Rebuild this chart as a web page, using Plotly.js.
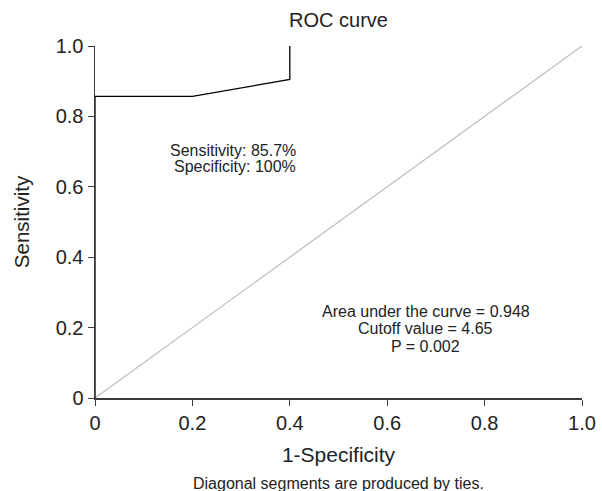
<!DOCTYPE html>
<html>
<head>
<meta charset="utf-8">
<script src="https://cdn.plot.ly/plotly-3.0.1.min.js"></script>
<style>html,body{margin:0;padding:0;background:#fff;} #chart{width:602px;height:491px;}</style>
</head>
<body>
<div id="chart"></div>
<script>
// ROC curve points (1-Specificity, Sensitivity)
const fpr = [0, 0, 0.2, 0.4, 0.4];
const tpr = [0, 0.857, 0.857, 0.905, 1.0];
// Reference (chance) line
const refX = [0, 1];
const refY = [0, 1];
// Tick values and labels
const tickVals = [0, 0.2, 0.4, 0.6, 0.8, 1.0];
const tickLabels = ["0", "0.2", "0.4", "0.6", "0.8", "1.0"];
// Text
const chartTitle = "ROC curve";
const xTitle = "1-Specificity";
const yTitle = "Sensitivity";
const cutText = ["Sensitivity: 85.7%", "Specificity: 100%"];
const statText = ["Area under the curve = 0.948", "Cutoff value = 4.65", "P = 0.002"];
const footnote = "Diagonal segments are produced by ties.";

const FONT = "Liberation Sans, Arial, Helvetica, sans-serif";
const TXT = "#222";

const traces = [
  {x: refX, y: refY, mode: "lines", line: {color: "#bcbcbc", width: 1.2}, hoverinfo: "skip", showlegend: false},
  {x: fpr, y: tpr, mode: "lines", line: {color: "#000", width: 1.3}, showlegend: false}
];

const axisCommon = {
  range: [0, 1],
  tickvals: tickVals,
  ticktext: tickLabels,
  showgrid: false,
  zeroline: false,
  showline: true,
  linecolor: "#3a3a3a",
  linewidth: 1.5,
  ticks: "outside",
  ticklen: 6,
  tickcolor: "#3a3a3a",
  tickwidth: 1,
  tickfont: {family: FONT, size: 20, color: TXT},
  fixedrange: true
};

const annotations = [];
const cutY = [0.704, 0.657];
cutText.forEach((t, i) => annotations.push({
  x: 0.416, y: cutY[i], xref: "x", yref: "y", text: t, showarrow: false,
  xanchor: "right", yanchor: "middle", font: {family: FONT, size: 16, color: TXT}
}));
const statY = [0.2465, 0.197, 0.147];
statText.forEach((t, i) => annotations.push({
  x: 0.679, y: statY[i], xref: "x", yref: "y", text: t, showarrow: false,
  xanchor: "center", yanchor: "middle", font: {family: FONT, size: 16, color: TXT}
}));
annotations.push({
  x: 0.5, y: -0.2415, xref: "paper", yref: "paper", text: footnote, showarrow: false,
  xanchor: "center", yanchor: "middle", font: {family: FONT, size: 16, color: TXT}
});

const layout = {
  width: 602, height: 491,
  margin: {l: 95, r: 20, t: 46, b: 93, pad: 0},
  paper_bgcolor: "#fff", plot_bgcolor: "#fff",
  font: {family: FONT, color: TXT},
  title: {text: chartTitle, font: {family: FONT, size: 20, color: TXT},
          x: 0.5, xref: "paper", y: 1 - 20/491, yref: "container", yanchor: "middle"},
  xaxis: Object.assign({}, axisCommon, {
    title: {text: xTitle, font: {family: FONT, size: 21, color: TXT}, standoff: 15}
  }),
  yaxis: Object.assign({}, axisCommon, {
    title: {text: yTitle, font: {family: FONT, size: 20.5, color: TXT}, standoff: 20}
  }),
  annotations: annotations,
  showlegend: false
};

Plotly.newPlot("chart", traces, layout, {displayModeBar: false, staticPlot: true});
</script>
</body>
</html>
